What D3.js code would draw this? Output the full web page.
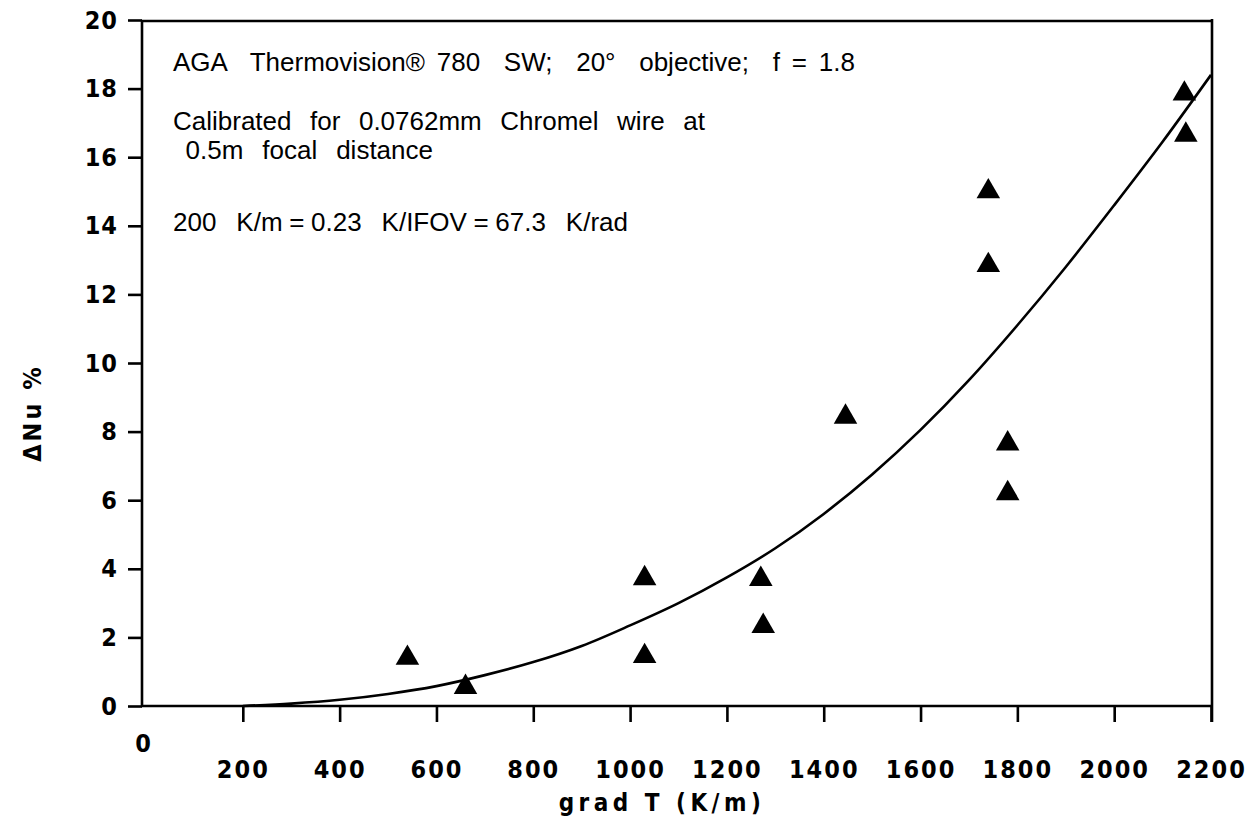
<!DOCTYPE html>
<html>
<head>
<meta charset="utf-8">
<script src="https://cdn.jsdelivr.net/npm/d3@7"></script>
<style>
  html, body { margin: 0; padding: 0; background: #fff; }
  svg { display: block; }
</style>
</head>
<body>
<svg id="chart" width="1254" height="824"></svg>
<script>
// ---- data ----
const pointX = [540, 660, 1030, 1030, 1270, 1275, 1445, 1740, 1740, 1780, 1780, 2145, 2148];
const pointY = [1.4, 0.55, 3.72, 1.45, 3.7, 2.33, 8.43, 15.0, 12.85, 7.65, 6.2, 17.85, 16.65];

const curveX = [200, 300, 400, 500, 600, 700, 800, 900, 1000, 1100, 1200, 1300, 1400, 1500, 1600, 1700, 1800, 1900, 2000, 2100, 2200];
const curveY = [0.0, 0.07, 0.18, 0.35, 0.58, 0.9, 1.28, 1.75, 2.35, 3.0, 3.75, 4.6, 5.6, 6.75, 8.05, 9.5, 11.1, 12.8, 14.6, 16.45, 18.4];

const xTicks = [200, 400, 600, 800, 1000, 1200, 1400, 1600, 1800, 2000, 2200];
const yTicks = [0, 2, 4, 6, 8, 10, 12, 14, 16, 18, 20];

const notes = [
  "AGA  Thermovision\u00AE 780  SW;  20\u00B0  objective;  f = 1.8",
  "Calibrated  for  0.0762mm  Chromel  wire  at",
  " 0.5m  focal  distance",
  "200   K/m = 0.23   K/IFOV = 67.3   K/rad"
];
const xTitle = "grad T (K/m)";
const yTitle = "\u0394Nu %";

(function () {
// ---- layout ----
const svg = d3.select("#chart");
const pLeft = 142, pRight = 1212, pTop = 21, pBottom = 706;
const x = d3.scaleLinear().domain([0, 2200]).range([146, 1211]);
const y = d3.scaleLinear().domain([0, 20]).range([pBottom, 20]);

const tickFont = "'DejaVu Sans Condensed', 'DejaVu Sans', sans-serif";

// frame
const frame = svg.append("g").attr("fill", "none").attr("stroke", "#000").attr("stroke-width", 2.6);
frame.append("line").attr("x1", pLeft).attr("x2", pLeft).attr("y1", pTop - 1).attr("y2", pBottom + 1);
frame.append("line").attr("x1", pLeft - 1).attr("x2", pRight).attr("y1", pBottom).attr("y2", pBottom);
frame.append("line").attr("x1", pLeft - 1).attr("x2", pRight).attr("y1", pTop).attr("y2", pTop);
frame.append("line").attr("x1", pRight).attr("x2", pRight).attr("y1", pTop - 2).attr("y2", pBottom + 16);

// x axis
const xAxis = d3.axisBottom(x).tickValues(xTicks).tickSize(16).tickPadding(38).tickFormat(d3.format("d"));
const gx = svg.append("g").attr("transform", `translate(0,${pBottom})`).call(xAxis);
gx.select(".domain").remove();
gx.selectAll(".tick line").attr("stroke", "#000").attr("stroke-width", 2.6);
gx.selectAll(".tick text")
  .attr("font-family", tickFont).attr("font-weight", "bold").attr("font-size", 25)
  .attr("letter-spacing", "2px").attr("fill", "#000");

// origin label "0"
svg.append("text").attr("x", 143).attr("y", 752).attr("text-anchor", "middle")
  .attr("font-family", tickFont).attr("font-weight", "bold").attr("font-size", 25).text("0");

// y axis
const yAxis = d3.axisLeft(y).tickValues(yTicks).tickSize(14).tickPadding(10).tickFormat(d3.format("d"));
const gy = svg.append("g").attr("transform", `translate(${pLeft},0)`).call(yAxis);
gy.select(".domain").remove();
gy.selectAll(".tick line").attr("stroke", "#000").attr("stroke-width", 2.6);
gy.selectAll(".tick text")
  .attr("font-family", tickFont).attr("font-weight", "bold").attr("font-size", 25)
  .attr("letter-spacing", "1px").attr("fill", "#000");

// axis titles
svg.append("text").attr("x", 662).attr("y", 811).attr("text-anchor", "middle")
  .attr("font-family", tickFont).attr("font-weight", "bold").attr("font-size", 24)
  .attr("letter-spacing", "4.5px").text(xTitle);
svg.append("text").attr("transform", "translate(41,413) rotate(-90)").attr("text-anchor", "middle")
  .attr("font-family", tickFont).attr("font-weight", "bold").attr("font-size", 25)
  .attr("letter-spacing", "3px").text(yTitle);

// notes
const noteY = [71, 130, 159, 231];
const noteW = [682, 532, 257, 455];
const noteX = [173, 173, 176, 173];
// size the note font so the first line spans its measured width
const probe = svg.append("text").attr("font-family", "'Liberation Sans', Arial, sans-serif")
  .attr("font-size", 20).style("white-space", "pre").text(notes[0]);
const fs = Math.min(26, 20 * noteW[0] / probe.node().getComputedTextLength());
probe.remove();
notes.forEach((t, i) => {
  const el = svg.append("text").attr("x", noteX[i]).attr("y", noteY[i])
    .attr("font-family", "'Liberation Sans', Arial, sans-serif").attr("font-size", fs)
    .style("white-space", "pre").text(t);
  const w = el.node().getComputedTextLength();
  const spaces = (t.match(/ /g) || []).length;
  if (spaces > 0) el.attr("word-spacing", ((noteW[i] - w) / spaces) + "px");
});

// curve
const line = d3.line().x(d => x(d[0])).y(d => y(d[1])).curve(d3.curveMonotoneX);
svg.append("path").datum(d3.zip(curveX, curveY))
  .attr("d", line).attr("fill", "none").attr("stroke", "#000").attr("stroke-width", 2.6);

// points
const tri = d3.symbol().type(d3.symbolTriangle).size(240);
svg.append("g").selectAll("path").data(d3.zip(pointX, pointY)).join("path")
  .attr("transform", d => `translate(${x(d[0])},${y(d[1])})`)
  .attr("d", tri).attr("fill", "#000");
})();
</script>
</body>
</html>
